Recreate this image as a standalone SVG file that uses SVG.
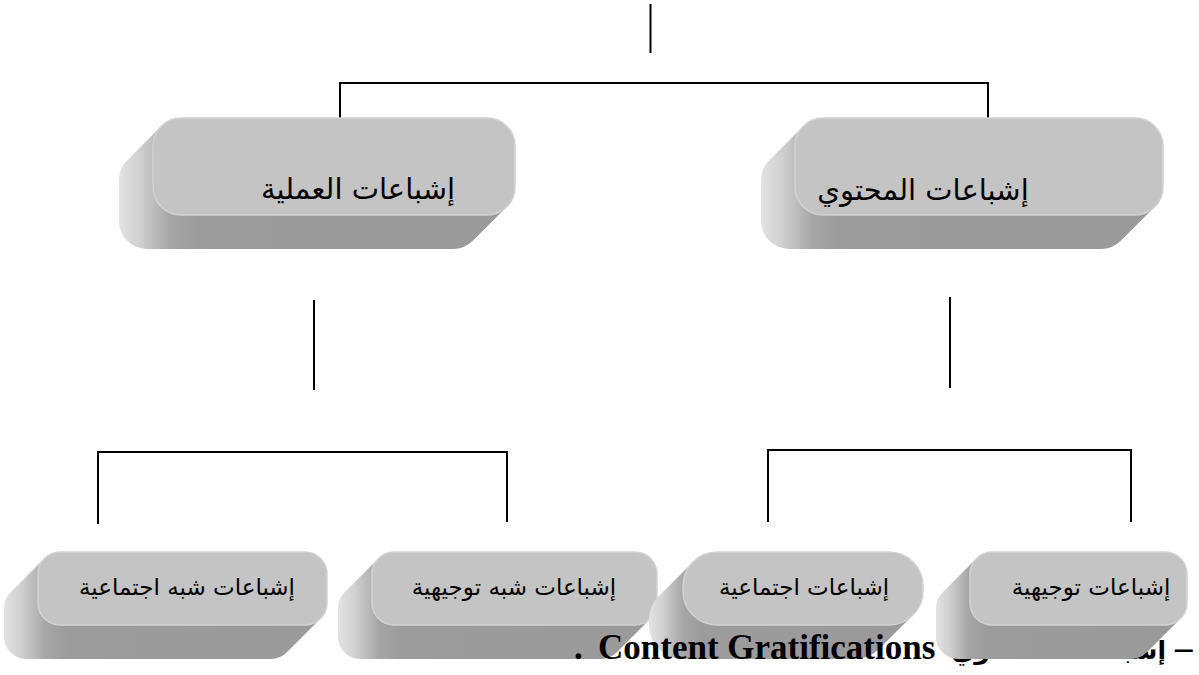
<svg xmlns="http://www.w3.org/2000/svg" width="1199" height="675" viewBox="0 0 1199 675">
<style>
.front{fill:#c4c4c4;stroke:#d2d2d2;stroke-width:1.5}
.ext{fill:url(#extg)}
.lbl{font-family:"DejaVu Sans","Noto Sans",sans-serif;fill:#000;text-anchor:middle}
.big{font-size:29px}
.small{font-size:23px}
.conn{fill:none;stroke:#000;stroke-width:2}
.cap{font-family:"Liberation Serif","DejaVu Serif",serif;font-weight:bold;font-size:35px;fill:#000}
.capar{font-family:"DejaVu Sans",sans-serif;font-weight:bold;font-size:25px;fill:#000;text-anchor:end}
</style>
<defs>
<linearGradient id="extg" x1="0" y1="0" x2="1" y2="0">
<stop offset="0" stop-color="#e2e2e2"/>
<stop offset="0.05" stop-color="#d2d2d2"/>
<stop offset="0.13" stop-color="#a6a6a6"/>
<stop offset="0.2" stop-color="#9c9c9c"/>
<stop offset="1" stop-color="#9a9a9a"/>
</linearGradient>
</defs>
<rect width="1199" height="675" fill="#fff"/>

<g id="connectors">
<line class="conn" x1="650.5" y1="4" x2="650.5" y2="53" stroke-width="1.6"/>
<polyline class="conn" points="340,118 340,83 988,83 988,118"/>
<line class="conn" x1="314" y1="300" x2="314" y2="390"/>
<polyline class="conn" points="98,524 98,452 507,452 507,522"/>
<line class="conn" x1="950" y1="297" x2="950" y2="388"/>
<polyline class="conn" points="768,522 768,450 1131,450 1131,522"/>
</g>

<g id="node-process">
<path class="ext" d="M161.2,126.2 L127.2,160.2 A28,28 0 0 0 119,180 L119,221 A28,28 0 0 0 147,249 L453,249 A28,28 0 0 0 472.8,240.8 L506.8,206.8 Z"/>
<rect class="front" x="153" y="118" width="362" height="97" rx="28"/>
<text class="lbl big" x="358" y="199">إشباعات العملية</text>
</g>

<g id="node-content">
<path class="ext" d="M803.2,126.2 L769.2,160.2 A28,28 0 0 0 761,180 L761,221 A28,28 0 0 0 789,249 L1101,249 A28,28 0 0 0 1120.8,240.8 L1154.8,206.8 Z"/>
<rect class="front" x="795" y="118" width="368" height="97" rx="28"/>
<text class="lbl big" x="923" y="200">إشباعات المحتوي</text>
</g>

<g id="node-quasi-social">
<path class="ext" d="M44.4,558.4 L10.4,592.4 A22,22 0 0 0 4,608 L4,637 A22,22 0 0 0 26,659 L271,659 A22,22 0 0 0 286.6,652.6 L320.6,618.6 Z"/>
<rect class="front" x="38" y="552" width="289" height="73" rx="22"/>
<text class="lbl small" x="187" y="595">إشباعات شبه اجتماعية</text>
</g>

<g id="node-quasi-orient">
<path class="ext" d="M378.4,558.4 L344.4,592.4 A22,22 0 0 0 338,608 L338,637 A22,22 0 0 0 360,659 L601,659 A22,22 0 0 0 616.6,652.6 L650.6,618.6 Z"/>
<rect class="front" x="372" y="552" width="285" height="73" rx="22"/>
<text class="lbl small" x="514" y="595">إشباعات شبه توجيهية</text>
</g>

<g id="node-social">
<path class="ext" d="M693,562 L659,596 A34,34 0 0 0 649,620 L649,625 A34,34 0 0 0 683,659 L855,659 A34,34 0 0 0 879,649 L913,615 Z"/>
<rect class="front" x="683" y="552" width="240" height="73" rx="34"/>
<text class="lbl small" x="804" y="595">إشباعات اجتماعية</text>
</g>

<text class="cap" x="574" y="659">.</text>
<text class="cap" x="598" y="659">Content Gratifications</text>
<text class="capar" x="1166" y="659">إشباعات المحتوي</text>
<text class="cap" x="1175" y="659">–</text>

<g id="node-orient">
<path class="ext" d="M976.4,558.4 L942.4,592.4 A22,22 0 0 0 936,608 L936,637 A22,22 0 0 0 958,659 L1131,659 A22,22 0 0 0 1146.6,652.6 L1180.6,618.6 Z"/>
<rect class="front" x="970" y="552" width="217" height="73" rx="22"/>
<text class="lbl small" x="1091" y="595">إشباعات توجيهية</text>
</g>
</svg>
